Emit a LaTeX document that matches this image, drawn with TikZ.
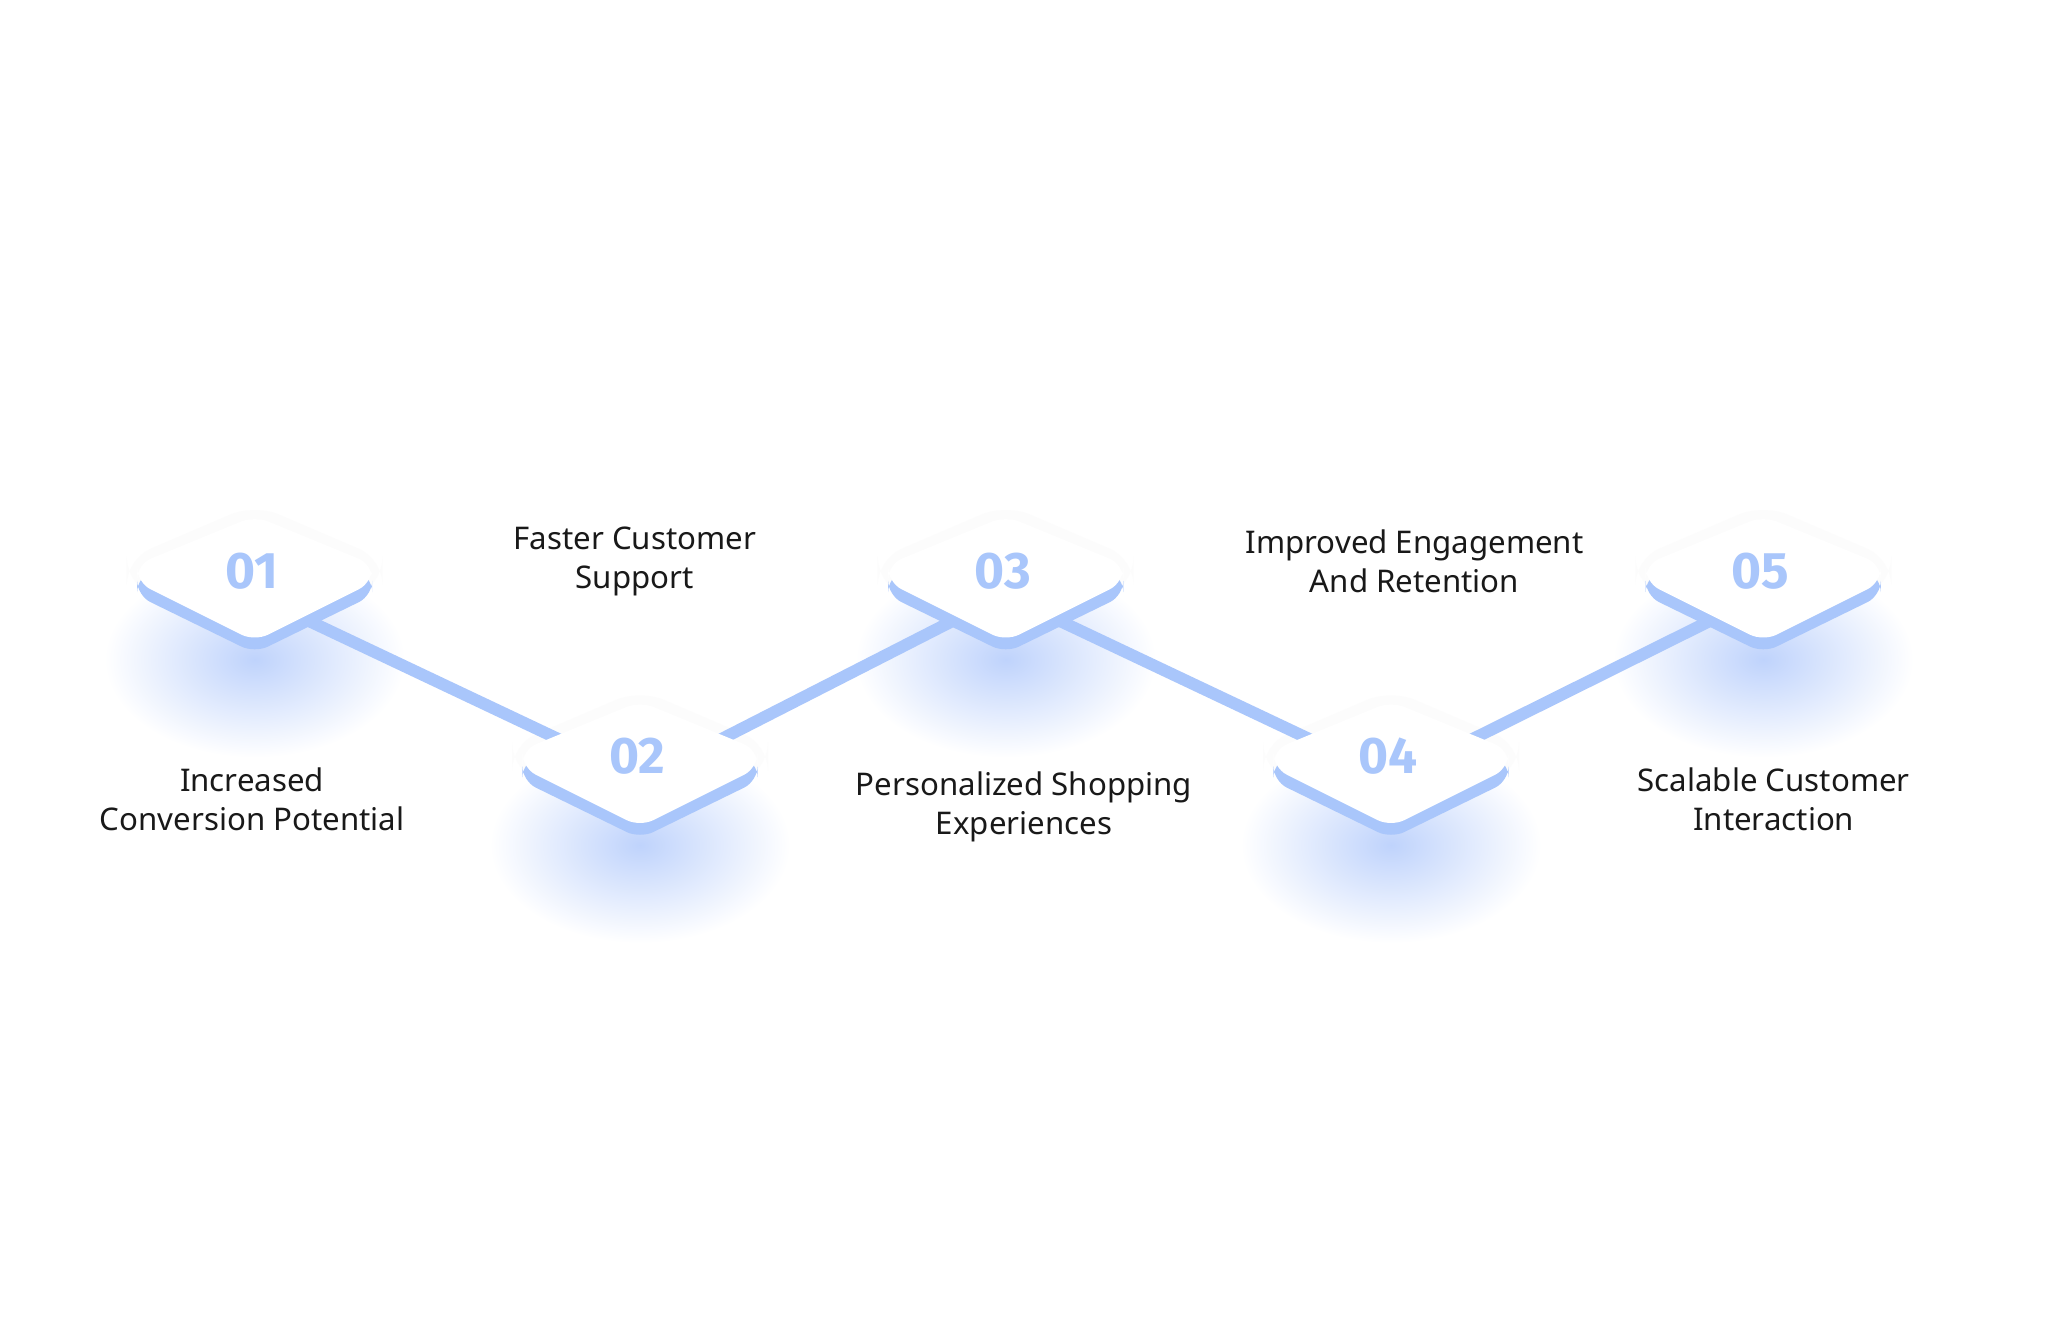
\documentclass[tikz,border=0pt]{standalone}
\usepackage{fontspec}
\setmainfont{Noto Sans}
\newfontfamily\numfont{Fira Sans}
\definecolor{bl}{HTML}{A9C6FB}
\definecolor{glow}{HTML}{BFD3FC}
\tikzset{
  lbl/.style={align=center,font=\fontsize{17}{21.3}\selectfont,text=black!90},
  num/.style={font=\numfont\fontsize{28}{30}\selectfont\bfseries,text=bl},
  conn/.style={draw=bl,line width=6.5pt}
}
\usetikzlibrary{calc}
\begin{document}
\begin{tikzpicture}[x=0.025cm,y=-0.025cm]
\useasboundingbox[fill=white] (0,0) rectangle (1568,1018);
\coordinate (n1) at (195,440);
\coordinate (n2) at (490,582);
\coordinate (n3) at (770,440);
\coordinate (n4) at (1065,582);
\coordinate (n5) at (1350,440);
\foreach \n in {n1,n2,n3,n4,n5}{
  \shade[inner color=glow, outer color=white] ($(\n)+(0,65)$) ellipse (115 and 75);
  \fill[black!1,rounded corners=14pt] ($(\n)+(-98,-12)$) -- ($(\n)+(-98,6)$) -- ($(\n)+(0,60)$) -- ($(\n)+(98,6)$) -- ($(\n)+(98,-12)$) -- ($(\n)+(0,-54)$) -- cycle;
}
\draw[conn] ($(n1)+(30,30)$) -- ($(n2)+(-60,-15)$);
\draw[conn] ($(n2)+(60,-15)$) -- ($(n3)+(-30,30)$);
\draw[conn] ($(n3)+(30,30)$) -- ($(n4)+(-60,-15)$);
\draw[conn] ($(n4)+(60,-15)$) -- ($(n5)+(-30,30)$);
\foreach \n/\t in {n1/01,n2/02,n3/03,n4/04,n5/05}{
  \fill[bl,rounded corners=8pt] ($(\n)+(-90,2)$) -- ($(\n)+(-90,16)$) -- ($(\n)+(0,60)$) -- ($(\n)+(90,16)$) -- ($(\n)+(90,2)$) -- ($(\n)+(0,-40)$) -- cycle;
  \fill[white,rounded corners=8pt] ($(\n)+(-90,-8)$) -- ($(\n)+(-90,6)$) -- ($(\n)+(0,51)$) -- ($(\n)+(90,6)$) -- ($(\n)+(90,-8)$) -- ($(\n)+(0,-45)$) -- cycle;
  \node[num] (t\n) at ($(\n)+(-2,-3)$) {\t};
}
\node[lbl] (l1) at (193,612) {Increased\\Conversion Potential};
\node[lbl] (l2) at (486,430) {Faster Customer\\Support};
\node[lbl] (l3) at (784,618) {Personalized Shopping\\Experiences};
\node[lbl] (l4) at (1083,430) {Improved Engagement\\And Retention};
\node[lbl] (l5) at (1358,612) {Scalable Customer\\Interaction};
\end{tikzpicture}
\end{document}
